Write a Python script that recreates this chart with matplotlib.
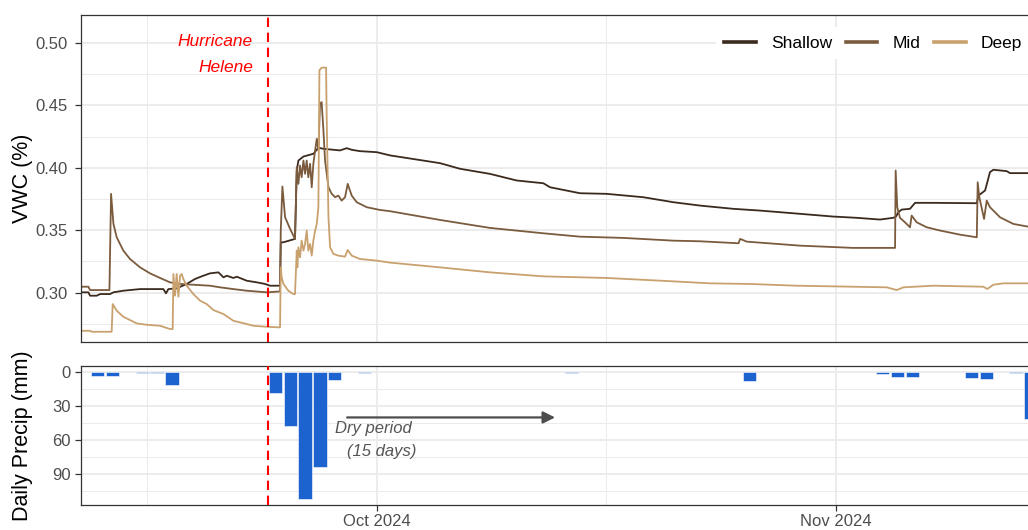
import pandas as pd
import numpy as np
import matplotlib
matplotlib.use('Agg')
import matplotlib.pyplot as plt
import matplotlib.dates as mdates
from matplotlib.ticker import FixedLocator, FuncFormatter

plt.rcParams['font.family'] = ['Liberation Sans', 'DejaVu Sans']

# readings: days after 2024-09-11 00:00 and volumetric water content
start = pd.Timestamp('2024-09-11')

shallow_day = [0.03, 0.53, 0.64, 1.09, 1.32, 1.99, 2.22, 2.89, 4.02, 5.59, 5.77, 5.93, 6.49, 7.17,
               7.73, 8.29, 8.74, 9.31, 9.65, 9.87, 10.32, 10.55, 11.22, 11.90, 12.46, 12.80, 13.47,
               13.52, 13.70, 14.48, 14.60, 14.71, 15.05, 15.72, 16.06, 16.40, 17.52, 17.97, 18.31,
               18.87, 20.0, 20.9, 24.27, 25.62, 27.65, 29.45, 31.25, 31.70, 33.72, 35.53, 38.0,
               40.03, 41.83, 44.08, 45.88, 48.58, 50.83, 52.41, 53.98, 54.88, 55.06, 55.22, 55.45,
               56.01, 56.35, 57.59, 60.52, 60.63, 61.08, 61.41, 61.64, 62.54, 62.76, 64.4]
shallow_vwc = [0.3003, 0.3003, 0.2976, 0.2976, 0.2989, 0.2989, 0.3003, 0.3016, 0.3029, 0.3029, 0.2995,
               0.3029, 0.3035, 0.3070, 0.3110, 0.3136, 0.3155, 0.3163, 0.3123, 0.3136, 0.3118, 0.3128,
               0.3096, 0.3083, 0.3070, 0.3056, 0.3056, 0.3404, 0.3404, 0.3431, 0.3979, 0.4059, 0.4091,
               0.4113, 0.4161, 0.4153, 0.4140, 0.4158, 0.4145, 0.4134, 0.4126, 0.4100, 0.4038, 0.3993,
               0.3952, 0.3899, 0.3877, 0.3845, 0.3797, 0.3792, 0.3765, 0.3725, 0.3698, 0.3672, 0.3658,
               0.3632, 0.3610, 0.3600, 0.3586, 0.3600, 0.3610, 0.3645, 0.3666, 0.3672, 0.3720, 0.3720,
               0.3717, 0.3778, 0.3819, 0.3966, 0.3985, 0.3974, 0.3958, 0.3958]

mid_day = [0.03, 0.53, 0.64, 1.95, 2.06, 2.22, 2.44, 2.89, 3.34, 4.02, 4.69, 5.37, 6.04, 6.72, 8.74,
           9.42, 10.32, 11.22, 12.57, 13.47, 13.52, 13.63, 13.81, 14.15, 14.48, 14.60, 14.71, 14.82,
           14.93, 15.05, 15.16, 15.27, 15.38, 15.50, 15.61, 15.72, 15.84, 15.95, 16.06, 16.17, 16.28,
           16.40, 16.51, 16.74, 16.96, 17.19, 17.41, 17.63, 17.86, 18.04, 18.31, 18.65, 19.32, 20.22,
           20.9, 24.27, 27.65, 31.25, 33.72, 36.65, 40.03, 41.83, 44.43, 44.54, 44.99, 48.58, 52.18,
           55.0, 55.04, 55.15, 55.33, 55.67, 56.01, 56.12, 56.46, 57.14, 58.04, 59.39, 60.52, 60.58,
           60.69, 61.01, 61.19, 61.41, 62.09, 62.99, 64.4]
mid_vwc = [0.3048, 0.3048, 0.3021, 0.3021, 0.3792, 0.3551, 0.3444, 0.3337, 0.3270, 0.3203, 0.3155,
           0.3118, 0.3083, 0.3070, 0.3056, 0.3043, 0.3029, 0.3016, 0.3003, 0.3010, 0.3500, 0.3851,
           0.3605, 0.3511, 0.3431, 0.4006, 0.3872, 0.4019, 0.3925, 0.4059, 0.3952, 0.4059, 0.3925,
           0.4033, 0.3845, 0.4033, 0.4140, 0.4233, 0.4140, 0.4514, 0.4527, 0.4300, 0.4059, 0.3845,
           0.3792, 0.3765, 0.3778, 0.3738, 0.3765, 0.3872, 0.3778, 0.3725, 0.3685, 0.3663, 0.3653,
           0.3583, 0.3519, 0.3476, 0.3449, 0.3439, 0.3417, 0.3412, 0.3396, 0.3431, 0.3409, 0.3377,
           0.3359, 0.3359, 0.3979, 0.3685, 0.3600, 0.3564, 0.3524, 0.3618, 0.3564, 0.3524, 0.3498,
           0.3465, 0.3444, 0.3885, 0.3765, 0.3591, 0.3738, 0.3685, 0.3604, 0.3551, 0.3520]

deep_day = [0.03, 0.64, 0.75, 2.10, 2.17, 2.44, 2.89, 3.34, 3.79, 4.47, 5.37, 6.04, 6.22, 6.27, 6.38,
            6.49, 6.61, 6.72, 6.83, 6.94, 7.17, 7.62, 8.07, 8.52, 8.97, 9.65, 10.32, 11.22, 11.67,
            12.57, 13.47, 13.52, 13.58, 13.70, 14.03, 14.37, 14.48, 14.60, 14.64, 14.71, 14.82, 14.93,
            15.05, 15.16, 15.27, 15.38, 15.50, 15.61, 15.72, 15.84, 15.95, 16.06, 16.13, 16.28, 16.58,
            16.62, 16.74, 16.85, 17.07, 17.41, 17.86, 18.04, 18.31, 18.87, 20.0, 20.9, 24.27, 27.65,
            31.25, 35.53, 40.03, 42.5, 45.21, 48.36, 54.44, 55.11, 55.56, 57.59, 60.96, 61.23, 61.64,
            62.31, 64.4]
deep_vwc = [0.2695, 0.2695, 0.2687, 0.2687, 0.2909, 0.2856, 0.2807, 0.2781, 0.2754, 0.2743, 0.2735,
            0.2709, 0.2709, 0.3150, 0.2976, 0.3150, 0.2968, 0.3136, 0.3150, 0.3110, 0.3056, 0.2989,
            0.2936, 0.2909, 0.2861, 0.2829, 0.2775, 0.2749, 0.2735, 0.2727, 0.2722, 0.3203, 0.3123,
            0.3070, 0.3016, 0.2989, 0.2989, 0.3337, 0.3203, 0.3364, 0.3283, 0.3417, 0.3337, 0.3391,
            0.3498, 0.3337, 0.3391, 0.3297, 0.3417, 0.3498, 0.3551, 0.3685, 0.4782, 0.4803, 0.4803,
            0.4407, 0.3605, 0.3364, 0.3311, 0.3297, 0.3289, 0.3342, 0.3297, 0.3270, 0.3257, 0.3241,
            0.3203, 0.3163, 0.3131, 0.3118, 0.3091, 0.3075, 0.3070, 0.3056, 0.3043, 0.3021, 0.3043,
            0.3056, 0.3048, 0.3030, 0.3064, 0.3075, 0.3075]

precip_date = ['2024-09-12', '2024-09-13', '2024-09-15', '2024-09-16', '2024-09-17',
               '2024-09-24', '2024-09-25', '2024-09-26', '2024-09-27', '2024-09-28', '2024-09-30',
               '2024-10-14', '2024-10-26', '2024-11-04', '2024-11-05', '2024-11-06',
               '2024-11-10', '2024-11-11', '2024-11-13', '2024-11-14']
precip_mm = [3.3, 3.2, 0.5, 0.5, 11.0, 18.5, 47.5, 112.0, 84.0, 7.0, 0.6,
             1.0, 8.0, 1.8, 4.1, 4.1, 4.6, 6.0, 0.6, 41.0]

hurricane_time = '2024-09-23 16:00'
dry_start = '2024-09-29'
dry_end = '2024-10-13 01:00'

series = [('Shallow', shallow_day, shallow_vwc, '#3b2a1e'),
          ('Mid', mid_day, mid_vwc, '#7b5b3d'),
          ('Deep', deep_day, deep_vwc, '#c9a16e')]

grid_col = '#ebebeb'
border_col = '#333333'
tick_col = '#4d4d4d'

fig = plt.figure(figsize=(10.28, 5.30), dpi=100)
W, H = 1028, 530
left, right = 81, 1033
ax1 = fig.add_axes([left / W, (H - 342) / H, (right - left) / W, (342 - 15) / H])
ax2 = fig.add_axes([left / W, (H - 505) / H, (right - left) / W, (505 - 366) / H])

x_lo = start + pd.Timedelta(days=0.03)
x_hi = start + pd.Timedelta(days=(right - 80.5) / 14.81)
major_x = [mdates.date2num(pd.Timestamp(d)) for d in ['2024-09-01', '2024-10-01', '2024-11-01', '2024-12-01']]
minor_x = [mdates.date2num(pd.Timestamp(d)) for d in ['2024-09-15 12:00', '2024-10-16 12:00', '2024-11-16']]

# top panel: soil moisture
for name, dd, vv, col in series:
    t = start + pd.to_timedelta(dd, unit='D')
    ax1.plot(t, vv, color=col, lw=1.3, label=name)

hx = pd.Timestamp(hurricane_time)
for ax in (ax1, ax2):
    ax.axvline(hx, color='#ff0000', lw=1.5, ls=(0, (4.5, 2.7)), zorder=3)

ax1.text(start + pd.Timedelta(days=11.65), 0.5009, 'Hurricane', color='#ff0000', style='italic',
         fontsize=12.5, ha='right', va='center')
ax1.text(start + pd.Timedelta(days=11.65), 0.4808, 'Helene', color='#ff0000', style='italic',
         fontsize=12.5, ha='right', va='center')

ax1.set_ylim(0.2605, 0.5225)
ax1.yaxis.set_major_locator(FixedLocator([0.30, 0.35, 0.40, 0.45, 0.50]))
ax1.yaxis.set_minor_locator(FixedLocator([0.275, 0.325, 0.375, 0.425, 0.475]))
ax1.yaxis.set_major_formatter(FuncFormatter(lambda v, p: '%.2f' % v))
ax1.set_ylabel('VWC (%)', fontsize=15.5)

leg = ax1.legend(loc='center right', bbox_to_anchor=(1039 / W, 1 - 43 / H), bbox_transform=fig.transFigure,
                 ncol=3, frameon=True, facecolor='white', edgecolor='none', framealpha=1, fancybox=False,
                 fontsize=12.5, handlelength=1.82, handletextpad=0.85, columnspacing=0.8, borderpad=0.5)
for ln in leg.get_lines():
    ln.set_linewidth(2.6)

# bottom panel: daily precipitation
bar_t = pd.to_datetime(precip_date) + pd.Timedelta(hours=4)
ax2.bar(bar_t, precip_mm, width=0.9, color='#1c63cf', edgecolor='white', linewidth=0.4, zorder=2)

ax2.annotate('', xy=(pd.Timestamp(dry_end), 40), xytext=(pd.Timestamp(dry_start), 40),
             arrowprops=dict(arrowstyle='-|>', color='#4d4d4d', lw=1.6, mutation_scale=18,
                             shrinkA=0, shrinkB=0))
ax2.text(start + pd.Timedelta(days=17.18), 49.4, 'Dry period', color='#555555', style='italic',
         fontsize=12, ha='left', va='center')
ax2.text(start + pd.Timedelta(days=18.0), 70.6, '(15 days)', color='#555555', style='italic',
         fontsize=12, ha='left', va='center')

ax2.set_ylim(117.6, -5.6)
ax2.yaxis.set_major_locator(FixedLocator([0, 30, 60, 90]))
ax2.yaxis.set_minor_locator(FixedLocator([15, 45, 75, 105]))
ax2.set_ylabel('Daily Precip (mm)', fontsize=15.5)

for ax in (ax1, ax2):
    ax.set_xlim(x_lo, x_hi)
    ax.xaxis.set_major_locator(FixedLocator(major_x))
    ax.xaxis.set_minor_locator(FixedLocator(minor_x))
    ax.xaxis.set_major_formatter(mdates.DateFormatter('%b %Y'))
    ax.grid(which='major', color=grid_col, lw=1.3)
    ax.grid(which='minor', color=grid_col, lw=0.7)
    ax.set_axisbelow(True)
    for s in ax.spines.values():
        s.set_color(border_col)
        s.set_linewidth(0.9)
    ax.tick_params(which='minor', length=0)
    ax.tick_params(axis='both', which='major', length=4.5, width=0.9, color=border_col,
                   labelsize=12, labelcolor=tick_col)
    ax.yaxis.set_label_coords((33 - left) / (right - left), 0.5)

ax1.tick_params(axis='y', pad=5)
ax2.tick_params(axis='y', pad=3)
ax1.tick_params(axis='x', which='both', bottom=False, labelbottom=False)
ax2.tick_params(axis='x', pad=2)

fig.savefig('out.png', dpi=100)
